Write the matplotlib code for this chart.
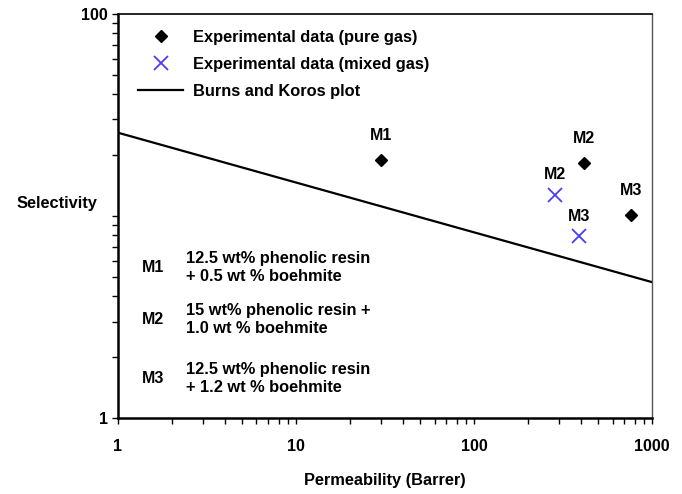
import matplotlib.pyplot as plt

plt.rcParams['font.family'] = ['Liberation Sans', 'DejaVu Sans']
plt.rcParams['font.weight'] = 'bold'
plt.rcParams['axes.labelweight'] = 'bold'

# experimental data (pure gas)
pure_x = [30, 415, 760]
pure_y = [18.9, 18.3, 10.1]
pure_lbl = ['M1', 'M2', 'M3']
# experimental data (mixed gas)
mixed_x = [285, 390]
mixed_y = [12.7, 7.95]
mixed_lbl = ['M2', 'M3']
# Burns and Koros upper bound
bk_x = [1, 1000]
bk_y = [25.8, 4.7]

membranes = ['M1', 'M2', 'M3']
compositions = ['12.5 wt% phenolic resin\n+ 0.5 wt % boehmite',
                '15 wt% phenolic resin +\n1.0 wt % boehmite',
                '12.5 wt% phenolic resin\n+ 1.2 wt % boehmite']

fig = plt.figure(figsize=(6.82, 4.94), dpi=100)
ax = fig.add_axes([0.173, 0.154, 0.783, 0.818])

ax.plot(pure_x, pure_y, 'D', color='black', markersize=6.5, label='Experimental data (pure gas)')
ax.plot(mixed_x, mixed_y, 'x', color='#4b3cf2', markersize=10, markeredgewidth=1.3,
        label='Experimental data (mixed gas)')
ax.plot(bk_x, bk_y, '-', color='black', lw=1.6, label='Burns and Koros plot')

for x, y, s in zip(pure_x, pure_y, pure_lbl):
    ax.annotate(s, xy=(x, y), xytext=(0, 12), textcoords='offset points',
                ha='center', va='bottom', fontsize=11.5)
for x, y, s in zip(mixed_x, mixed_y, mixed_lbl):
    ax.annotate(s, xy=(x, y), xytext=(0, 9), textcoords='offset points',
                ha='center', va='bottom', fontsize=11.5)

ax.set_xscale('log')
ax.set_yscale('log')
ax.set_xlim(1, 1000)
ax.set_ylim(1, 100)
ax.set_xticks([1, 10, 100, 1000])
ax.set_xticklabels(['1', '10', '100', '1000'])
ax.set_yticks([1, 10, 100])
ax.set_yticklabels(['1', '', '100'])
ax.tick_params(which='both', direction='out', length=4, width=1, labelsize=11.5)
ax.tick_params(axis='x', pad=11)

for s in ['left', 'bottom']:
    ax.spines[s].set_linewidth(1.8)
ax.spines['top'].set_linewidth(1.2)
ax.spines['right'].set_linewidth(1.0)
ax.spines['right'].set_color('#555555')

ax.set_xlabel('Permeability (Barrer)', fontsize=11.8, labelpad=14)
ax.set_ylabel('Selectivity', fontsize=11.8, rotation=0, ha='right', va='center')
ax.yaxis.set_label_coords(-0.039, 0.53)

ypos = [0.372, 0.243, 0.098]
for m, c, yp in zip(membranes, compositions, ypos):
    ax.text(0.066, yp, m, transform=ax.transAxes, ha='center', va='center', fontsize=11.5)
    ax.text(0.128, yp, c, transform=ax.transAxes, ha='left', va='center',
            fontsize=11.8, linespacing=1.25)

ax.legend(loc='upper left', bbox_to_anchor=(0.006, 1.0), frameon=False, fontsize=11.8,
          handlelength=2.8, handletextpad=0.6, labelspacing=0.72, borderaxespad=0.6)

fig.savefig('out.png', dpi=100)
